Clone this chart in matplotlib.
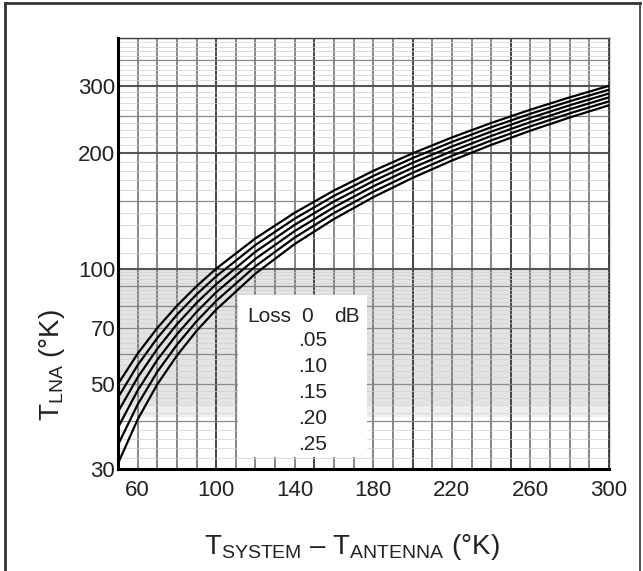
import numpy as np
import matplotlib
matplotlib.use("Agg")
import matplotlib.pyplot as plt
from matplotlib.lines import Line2D
from matplotlib.patches import Rectangle

plt.rcParams['font.family'] = ['Liberation Sans', 'DejaVu Sans']
plt.rcParams['mathtext.fontset'] = 'custom'
plt.rcParams['mathtext.rm'] = 'Liberation Sans'
plt.rcParams['mathtext.it'] = 'Liberation Sans'

# ---- data ----
t_diff = [50, 60, 70, 80, 90, 100, 120, 140, 160, 180, 200, 220, 240, 260, 280, 300]
loss_labels = ["0", ".05", ".10", ".15", ".20", ".25"]
t_lna_000 = [50.0, 60.0, 70.0, 80.0, 90.0, 100.0, 120.0, 140.0, 160.0, 180.0, 200.0, 220.0, 240.0, 260.0, 280.0, 300.0]
t_lna_005 = [46.1, 56.0, 65.9, 75.8, 85.7, 95.5, 115.3, 135.1, 154.9, 174.6, 194.4, 214.2, 233.9, 253.7, 273.5, 293.2]
t_lna_010 = [42.3, 52.0, 61.8, 71.6, 81.4, 91.1, 110.7, 130.2, 149.8, 169.3, 188.9, 208.4, 227.9, 247.5, 267.0, 286.6]
t_lna_015 = [38.5, 48.1, 57.8, 67.4, 77.1, 86.8, 106.1, 125.4, 144.7, 164.1, 183.4, 202.7, 222.0, 241.3, 260.7, 280.0]
t_lna_020 = [34.7, 44.2, 53.8, 63.3, 72.9, 82.4, 101.5, 120.6, 139.7, 158.8, 177.9, 197.0, 216.1, 235.2, 254.3, 273.4]
t_lna_025 = [31.0, 40.4, 49.9, 59.3, 68.8, 78.2, 97.1, 116.0, 134.8, 153.7, 172.6, 191.5, 210.4, 229.2, 248.1, 267.0]
series = [t_lna_000, t_lna_005, t_lna_010, t_lna_015, t_lna_020, t_lna_025]

x_ticks = [60, 100, 140, 180, 220, 260, 300]
y_ticks = [30, 50, 70, 100, 200, 300]

W, H = 643, 571
fig = plt.figure(figsize=(W / 100, H / 100), dpi=100)
ax = fig.add_axes([118 / W, 1 - 469 / H, (609 - 118) / W, (469 - 38) / H])
ax.set_yscale('log')
ax.set_xlim(50, 300)
ax.set_ylim(30, 400)

# gray shaded band (scan)
ax.axhspan(44, 100, color='#e3e3e3', zorder=0, lw=0)
ax.axhspan(41, 44, color='#eeeeee', zorder=0, lw=0)

# graph-paper grid
for xv in np.arange(50, 301, 10):
    if xv % 50 == 0:
        c, lw = '#444444', 1.4
    else:
        c, lw = '#666666', 1.1
    ax.axvline(xv, color=c, lw=lw, zorder=1)
hlines = list(range(30, 100, 2)) + list(range(100, 401, 10))
for yv in hlines:
    if yv in (100, 200, 300):
        c, lw = '#555555', 1.5
    elif (yv < 100 and yv % 10 == 0) or (yv >= 100 and yv % 50 == 0):
        c, lw = '#888888', 0.9
    else:
        c, lw = '#cfcfcf', 0.5
    ax.axhline(yv, color=c, lw=lw, zorder=1)

for s in series:
    ax.plot(t_diff, s, color='black', lw=1.6, zorder=3)

# legend box
ax.add_patch(Rectangle((0.244, 0.028), 0.263, 0.376, transform=ax.transAxes,
                       facecolor='white', edgecolor='none', zorder=4))
fs = 16
def px(xp):
    return (xp - 118) / (609 - 118)
def py(yp):
    return (469 - yp) / (469 - 38)
tc = '#222222'
ax.text(px(247), py(316), "Loss", transform=ax.transAxes, ha='left', va='center', fontsize=15, zorder=5, color=tc)
ax.text(px(307), py(316), loss_labels[0], transform=ax.transAxes, ha='center', va='center', fontsize=15, zorder=5, color=tc)
ax.text(px(334), py(316), "dB", transform=ax.transAxes, ha='left', va='center', fontsize=15, zorder=5, color=tc)
for lab, yp in zip(loss_labels[1:], [341, 367, 393, 419, 444]):
    ax.text(px(327), py(yp), lab, transform=ax.transAxes, ha='right', va='center', fontsize=15, zorder=5, color=tc)

ax.set_xticks(x_ticks)
ax.set_xticklabels([str(v) for v in x_ticks])
ax.set_yticks(y_ticks)
ax.set_yticklabels([str(v) for v in y_ticks])
ax.yaxis.set_minor_locator(matplotlib.ticker.NullLocator())
ax.tick_params(axis='both', length=0, labelsize=fs, colors=tc)
ax.tick_params(axis='x', pad=8)
ax.tick_params(axis='y', pad=2)

for side in ('left', 'bottom'):
    ax.spines[side].set_linewidth(2.2)
    ax.spines[side].set_color('black')
    ax.spines[side].set_zorder(6)
for side in ('top', 'right'):
    ax.spines[side].set_linewidth(1.0)
    ax.spines[side].set_color('#444444')

fig.text(52 / W, 1 - 365 / H, r'T$_{\mathrm{LNA}}$ (°K)', rotation=90, ha='center', va='center',
         fontsize=20, color=tc)
fig.text(352 / W, 1 - 547 / H, r'T$_{\mathrm{SYSTEM}}$ – T$_{\mathrm{ANTENNA}}$ (°K)', ha='center', va='center',
         fontsize=20, color=tc)

# outer frame
fig.add_artist(Line2D([5 / W, 5 / W], [0, 1 - 3 / H], color='#333333', lw=2))
fig.add_artist(Line2D([5 / W, 640 / W], [1 - 3 / H, 1 - 3 / H], color='#333333', lw=2))
fig.add_artist(Line2D([640 / W, 640 / W], [0, 1 - 3 / H], color='#333333', lw=1.2))

fig.savefig('out.png', dpi=100)
